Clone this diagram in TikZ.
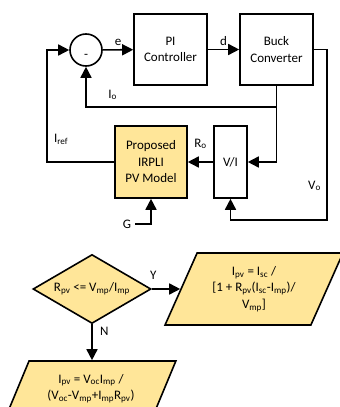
\documentclass[tikz,border=0pt]{standalone}
\usepackage{fontspec}
\setmainfont{Carlito}
\usetikzlibrary{positioning, shapes.geometric, arrows.meta}
\definecolor{pvyellow}{RGB}{255,230,153}
\newcommand{\sub}[1]{\textsubscript{#1}}

\tikzset{
    block/.style={draw, align=center, minimum width=73pt, minimum height=71pt, inner sep=2pt},
    decision/.style={diamond, draw, fill=pvyellow, align=center, aspect=1.7, inner sep=0pt,
        minimum width=118pt, minimum height=69pt},
    result/.style={trapezium, draw, fill=pvyellow, align=center, trapezium stretches=true,
        trapezium left angle=64, trapezium right angle=116, minimum width=178pt, minimum height=72pt}
}

\begin{document}
\begin{tikzpicture}[x=1pt, y=-1pt, node distance=106pt, on grid, auto,
        font=\fontsize{13}{16.5}\selectfont, line width=1.6pt,
        >={Triangle[length=11pt, width=11pt]}]
            \clip (0,0) rectangle (340,407);
            \node [circle, draw, minimum size=32pt, inner sep=0pt] (sum) at (86,50) {};
            \node (minus) at (86,56) {-};
            \node [block] (pi) at (170.5,49.5) {PI\\Controller};
            \node [block] [right =of pi] (buck) {Buck\\Converter};
            \node [block, fill=pvyellow, minimum width=72pt, minimum height=72pt] (pv) at (151,162) {Proposed\\IRPLI\\PV Model};
            \node [block, minimum width=33pt, minimum height=72pt] [right =79.5pt of pv] (vi) {V/I};
            \node (g) at (127,224) {G};
            \coordinate (io) at (buck.south |- 0,107);
            \coordinate (fb) at (47,162);
            \coordinate (vr) at (327,220);
            \path[->]
            	(sum) edge node {e} (pi)
            	(pi) edge node {d} (buck)
            	(vi) edge node [swap, yshift=9pt] {R\sub{o}} (pv);
            \draw [->] (buck.south) |- (vi.east);
            \draw [->] (io) -| node [pos=0.43, above=3pt] {I\sub{o}} (sum.south);
            \draw [->] (pv.west) -- (fb) |- node [pos=0.1, right=3pt] {I\sub{ref}} (sum.west);
            \draw [->] (buck.east) -| node [pos=0.9, left=2pt] {V\sub{o}} (vr) -| (vi.south);
            \draw [->] (g.east) -| (pv.south);

            % MPP test
            \node [decision] (dec) at (92,289) {R\sub{pv} <= V\sub{mp}/I\sub{mp}};
            \node [result] [right =162pt of dec] (yes) {I\sub{pv} = I\sub{sc} /\\{}[1 + R\sub{pv}(I\sub{sc}-I\sub{mp})/\\V\sub{mp}]};
            \node [result, minimum width=170pt, minimum height=55pt] (no) at (91,388.5) {I\sub{pv} = V\sub{oc}I\sub{mp} /\\(V\sub{oc}-V\sub{mp}+I\sub{mp}R\sub{pv})};
            \path[->]
            	(dec) edge node [pos=0.05, above=5pt] {Y} (yes.west);
            \draw [->] (dec.south) -- node [pos=0.2, right=4pt] {N} (dec.south |- no.north);
\end{tikzpicture}
\end{document}
